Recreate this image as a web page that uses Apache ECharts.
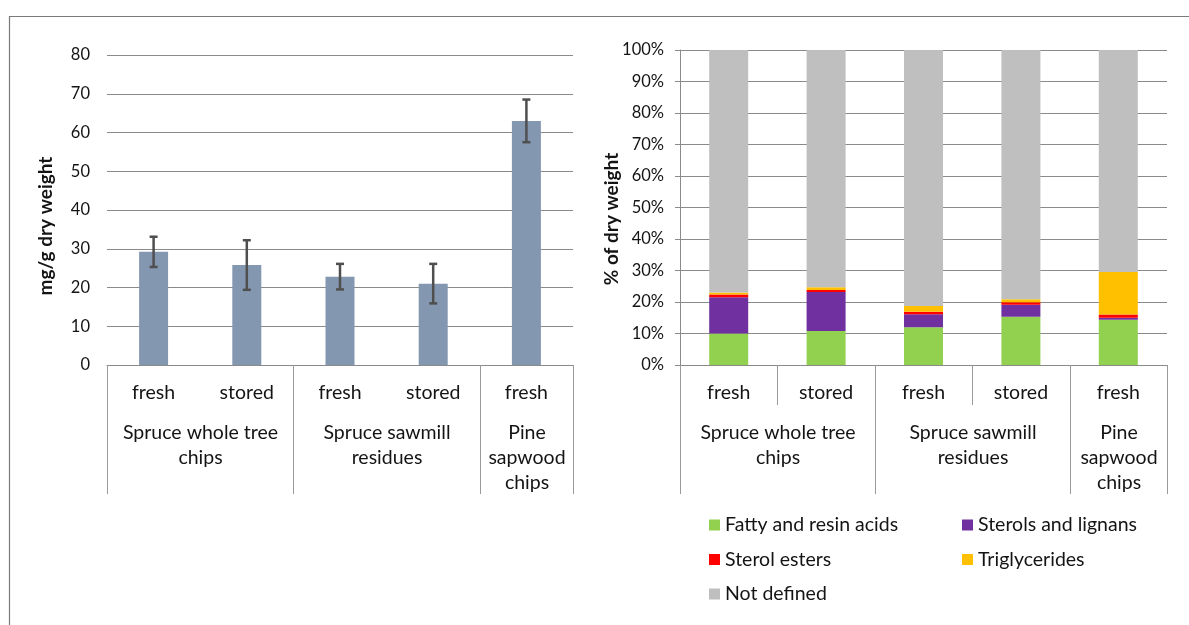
<!DOCTYPE html>
<html>
<head>
<meta charset="utf-8">
<title>Extractives in wood chips</title>
<script src="https://cdn.jsdelivr.net/npm/echarts@6/dist/echarts.min.js"></script>
<style>
  html, body { margin: 0; padding: 0; background: #ffffff; }
  #chart { width: 1189px; height: 625px; }
</style>
</head>
<body>
<div id="chart"></div>
<script>
// Sample sub-categories and their groups (shared by both panels)
const subLabels = ['fresh', 'stored', 'fresh', 'stored', 'fresh'];
const groupLabels = ['Spruce whole tree\nchips', 'Spruce sawmill\nresidues', 'Pine\nsapwood\nchips'];
const groupSpans = [[0, 1], [2, 3], [4, 4]];

// Left panel: total extractives, mg/g dry weight, with standard deviation
const totalMean = [29.2, 25.8, 22.8, 21.0, 63.0];
const totalErr = [3.9, 6.4, 3.3, 5.1, 5.5];
const leftTicks = [0, 10, 20, 30, 40, 50, 60, 70, 80];

// Right panel: composition, % of dry weight
const fattyResinAcids = [10.0, 10.8, 12.0, 15.3, 14.4];
const sterolsLignans = [11.5, 12.4, 4.1, 3.8, 0.6];
const sterolEsters = [0.9, 0.6, 0.8, 0.8, 1.0];
const triglycerides = [0.6, 0.9, 1.8, 1.0, 13.5];
const notDefined = [77.0, 75.3, 81.3, 79.1, 70.5];
const rightTicks = [0, 10, 20, 30, 40, 50, 60, 70, 80, 90, 100];

const FONT = 'Lato, "Liberation Sans", sans-serif';
const TEXT = '#141414';
const GRID = '#8a8a8a';
const DIVIDER = '#9a9a9a';
const LABEL_SIZE = 19.5;

const chart = echarts.init(document.getElementById('chart'), null, { renderer: 'canvas' });

// Divider lines and group captions below a category axis
function groupAxisRenderer(withInnerDividers) {
  return function (params, api) {
    const s = api.value(0);
    const e = api.value(2);
    const band = api.size([1, 0])[0];
    const p0 = api.coord([s, 0]);
    const p1 = api.coord([e, 0]);
    const y = p0[1];
    const x0 = Math.round(p0[0] - band / 2) + 0.5;
    const x1 = Math.round(p1[0] + band / 2) + 0.5;
    const children = [
      { type: 'line', shape: { x1: x0, y1: y, x2: x0, y2: y + 129 }, style: { stroke: DIVIDER, lineWidth: 1 } },
      { type: 'line', shape: { x1: x1, y1: y, x2: x1, y2: y + 129 }, style: { stroke: DIVIDER, lineWidth: 1 } },
      {
        type: 'text',
        style: {
          text: groupLabels[params.dataIndex],
          x: (x0 + x1) / 2, y: y + 55,
          align: 'center', verticalAlign: 'top',
          font: LABEL_SIZE + 'px ' + FONT, lineHeight: 25, fill: TEXT
        }
      }
    ];
    if (withInnerDividers) {
      for (let k = s; k < e; k++) {
        const xi = Math.round(api.coord([k, 0])[0] + band / 2) + 0.5;
        children.push({ type: 'line', shape: { x1: xi, y1: y, x2: xi, y2: y + 40 }, style: { stroke: DIVIDER, lineWidth: 1 } });
      }
    }
    return { type: 'group', children: children };
  };
}

const groupData = groupSpans.map(g => [g[0], 0, g[1]]);

const catLabel = { color: TEXT, fontSize: LABEL_SIZE, fontFamily: FONT, margin: 18, interval: 0, lineHeight: 20 };
const legendText = { color: TEXT, fontSize: LABEL_SIZE, fontFamily: FONT, lineHeight: 20 };

const option = {
  animation: false,
  textStyle: { fontFamily: FONT },
  grid: [
    { left: 107, top: 55, width: 466, height: 310 },
    { left: 680, top: 50, width: 487, height: 315 }
  ],
  xAxis: [
    {
      gridIndex: 0, type: 'category', data: subLabels,
      axisLine: { show: true, lineStyle: { color: GRID, width: 1 } },
      axisTick: { show: false },
      axisLabel: catLabel,
      splitLine: { show: false }
    },
    {
      gridIndex: 1, type: 'category', data: subLabels,
      axisLine: { show: true, lineStyle: { color: GRID, width: 1 } },
      axisTick: { show: false },
      axisLabel: catLabel,
      splitLine: { show: false }
    }
  ],
  yAxis: [
    {
      gridIndex: 0, type: 'value', min: leftTicks[0], max: leftTicks[leftTicks.length - 1], interval: 10,
      axisLine: { show: false }, axisTick: { show: false },
      axisLabel: { color: TEXT, fontSize: 16.5, fontFamily: FONT, margin: 17 },
      splitLine: { show: true, lineStyle: { color: GRID, width: 1 } }
    },
    {
      gridIndex: 1, type: 'value', min: rightTicks[0], max: rightTicks[rightTicks.length - 1], interval: 10,
      axisLine: { show: true, lineStyle: { color: GRID, width: 1 } },
      axisTick: { show: true, length: 5, lineStyle: { color: GRID } },
      axisLabel: { color: TEXT, fontSize: 16.5, fontFamily: FONT, margin: 16, formatter: '{value}%' },
      splitLine: { show: true, lineStyle: { color: GRID, width: 1 } }
    }
  ],
  legend: [
    {
      left: 709, top: 515, padding: 0, orient: 'vertical', itemWidth: 11, itemHeight: 11, itemGap: 14.5,
      icon: 'rect', selectedMode: false, textStyle: legendText,
      data: ['Fatty and resin acids', 'Sterol esters', 'Not defined']
    },
    {
      left: 962, top: 515, padding: 0, orient: 'vertical', itemWidth: 11, itemHeight: 11, itemGap: 14.5,
      icon: 'rect', selectedMode: false, textStyle: legendText,
      data: ['Sterols and lignans', 'Triglycerides']
    }
  ],
  graphic: [
    {
      type: 'rect', silent: true,
      shape: { x: 9.5, y: 16.5, width: 1200, height: 700 },
      style: { fill: 'none', stroke: '#7a7a7a', lineWidth: 1.2 }
    },
    {
      type: 'text', silent: true, x: 46, y: 226, rotation: Math.PI / 2,
      style: { text: 'mg/g dry weight', font: 'bold 19px ' + FONT, fill: TEXT, align: 'center', verticalAlign: 'middle' }
    },
    {
      type: 'text', silent: true, x: 612, y: 219, rotation: Math.PI / 2,
      style: { text: '% of dry weight', font: 'bold 19px ' + FONT, fill: TEXT, align: 'center', verticalAlign: 'middle' }
    }
  ],
  series: [
    {
      name: 'Total', type: 'bar', xAxisIndex: 0, yAxisIndex: 0,
      data: totalMean, barWidth: 29,
      itemStyle: { color: '#8497b0' }, silent: true
    },
    {
      name: 'Std', type: 'custom', xAxisIndex: 0, yAxisIndex: 0, silent: true, z: 5,
      data: totalMean.map((m, i) => [i, m - totalErr[i], m + totalErr[i]]),
      encode: { x: 0, y: [1, 2] },
      renderItem: function (params, api) {
        const lo = api.coord([api.value(0), api.value(1)]);
        const hi = api.coord([api.value(0), api.value(2)]);
        const x = lo[0];
        const st = { stroke: '#4f4f4f', lineWidth: 2.5 };
        return {
          type: 'group',
          children: [
            { type: 'line', shape: { x1: x, y1: lo[1], x2: x, y2: hi[1] }, style: st },
            { type: 'line', shape: { x1: x - 4, y1: lo[1], x2: x + 4, y2: lo[1] }, style: st },
            { type: 'line', shape: { x1: x - 4, y1: hi[1], x2: x + 4, y2: hi[1] }, style: st }
          ]
        };
      }
    },
    {
      name: 'groupsLeft', type: 'custom', xAxisIndex: 0, yAxisIndex: 0, silent: true,
      data: groupData, encode: { x: 0, y: 1 },
      renderItem: groupAxisRenderer(false)
    },
    {
      name: 'groupsRight', type: 'custom', xAxisIndex: 1, yAxisIndex: 1, silent: true,
      data: groupData, encode: { x: 0, y: 1 },
      renderItem: groupAxisRenderer(true)
    },
    { name: 'Fatty and resin acids', type: 'bar', stack: 'comp', xAxisIndex: 1, yAxisIndex: 1, barWidth: 39, data: fattyResinAcids, itemStyle: { color: '#92d050' }, silent: true },
    { name: 'Sterols and lignans', type: 'bar', stack: 'comp', xAxisIndex: 1, yAxisIndex: 1, barWidth: 39, data: sterolsLignans, itemStyle: { color: '#7030a0' }, silent: true },
    { name: 'Sterol esters', type: 'bar', stack: 'comp', xAxisIndex: 1, yAxisIndex: 1, barWidth: 39, data: sterolEsters, itemStyle: { color: '#ff0000' }, silent: true },
    { name: 'Triglycerides', type: 'bar', stack: 'comp', xAxisIndex: 1, yAxisIndex: 1, barWidth: 39, data: triglycerides, itemStyle: { color: '#ffc000' }, silent: true },
    { name: 'Not defined', type: 'bar', stack: 'comp', xAxisIndex: 1, yAxisIndex: 1, barWidth: 39, data: notDefined, itemStyle: { color: '#bfbfbf' }, silent: true }
  ]
};

chart.setOption(option);
</script>
</body>
</html>
